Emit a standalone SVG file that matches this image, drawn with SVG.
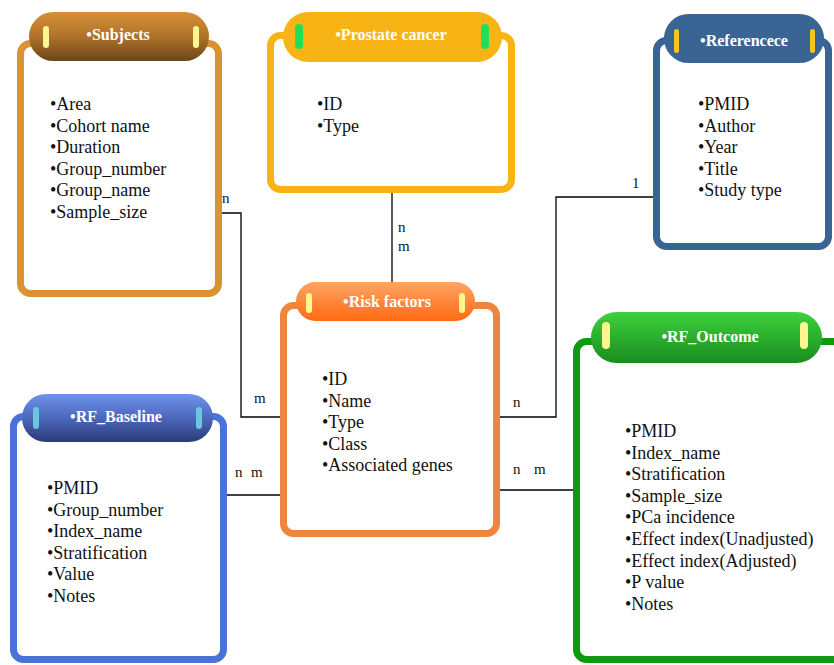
<svg xmlns="http://www.w3.org/2000/svg" width="834" height="665" viewBox="0 0 834 665">
<defs>
<linearGradient id="gSub" x1="0" y1="0" x2="0" y2="1"><stop offset="0" stop-color="#d68f38"/><stop offset="0.5" stop-color="#b0732a"/><stop offset="1" stop-color="#6a461a"/></linearGradient>
<linearGradient id="gRisk" x1="0" y1="0" x2="0" y2="1"><stop offset="0" stop-color="#ffa565"/><stop offset="1" stop-color="#ff6a12"/></linearGradient>
<linearGradient id="gBase" x1="0" y1="0" x2="0" y2="1"><stop offset="0" stop-color="#6d93ea"/><stop offset="0.5" stop-color="#4c68bc"/><stop offset="1" stop-color="#2a3a78"/></linearGradient>
<linearGradient id="gOut" x1="0" y1="0" x2="0" y2="1"><stop offset="0" stop-color="#3dd13d"/><stop offset="1" stop-color="#1a8c1e"/></linearGradient>
</defs>
<style>
.box{fill:#fff;stroke-width:7}
.title{font-family:"Liberation Serif","Times New Roman",serif;font-size:16px;font-weight:bold;fill:#fff;text-anchor:middle}
.item{font-family:"Liberation Serif","Times New Roman",serif;font-size:18px;fill:#111}
.lbl{font-family:"Liberation Serif","Times New Roman",serif;font-size:15px;fill:#111}
.conn{fill:none;stroke:#000;stroke-width:1.3}
.ybar{fill:#fff68f}
</style>
<g id="connectors">
<path class="conn" d="M222,213 H241 V417 H281"/>
<path class="conn" d="M392,193 V283"/>
<path class="conn" d="M497,417 H556 V197 H654"/>
<path class="conn" d="M226,495 H281"/>
<path class="conn" d="M499,490 H574"/>
<text class="lbl" x="222" y="203">n</text>
<text class="lbl" x="398" y="232">n</text>
<text class="lbl" x="398" y="251">m</text>
<text class="lbl" x="254" y="403">m</text>
<text class="lbl" x="513" y="407">n</text>
<text class="lbl" x="632" y="188">1</text>
<text class="lbl" x="235" y="477">n</text>
<text class="lbl" x="251" y="477">m</text>
<text class="lbl" x="513" y="474">n</text>
<text class="lbl" x="534" y="474">m</text>
</g>
<g id="subjects">
<rect class="box" x="20.5" y="43.5" width="198" height="250" rx="10" stroke="#d99334"/>
<rect x="29" y="12" width="180" height="49" rx="24.5" fill="url(#gSub)"/>
<rect class="ybar" x="43" y="26" width="6" height="22" rx="3"/>
<rect class="ybar" x="193" y="26" width="6" height="22" rx="3"/>
<text class="title" x="118" y="40">•Subjects</text>
<text class="item" x="50" y="110">•Area</text>
<text class="item" x="50" y="131.6">•Cohort name</text>
<text class="item" x="50" y="153.2">•Duration</text>
<text class="item" x="50" y="174.8">•Group_number</text>
<text class="item" x="50" y="196.4">•Group_name</text>
<text class="item" x="50" y="218">•Sample_size</text>
</g>
<g id="prostate">
<rect class="box" x="270.5" y="35.5" width="241" height="154" rx="10" stroke="#f8b415"/>
<rect x="283" y="12" width="219" height="50" rx="25" fill="#f8b415"/>
<rect x="295" y="24" width="8" height="25" rx="4" fill="#1fe05a"/>
<rect x="481" y="24" width="8" height="25" rx="4" fill="#1fe05a"/>
<text class="title" x="391" y="40">•Prostate cancer</text>
<text class="item" x="317" y="110">•ID</text>
<text class="item" x="317" y="131.6">•Type</text>
</g>
<g id="reference">
<rect class="box" x="656.5" y="40.5" width="172" height="206" rx="10" stroke="#3a6494"/>
<rect x="664" y="14" width="160" height="49" rx="24.5" fill="#3a6494"/>
<rect x="674" y="29" width="5" height="24" rx="2.5" fill="#f5c518"/>
<rect x="810" y="29" width="5" height="24" rx="2.5" fill="#f5c518"/>
<text class="title" x="744" y="46">•Referencece</text>
<text class="item" x="698" y="110">•PMID</text>
<text class="item" x="698" y="131.6">•Author</text>
<text class="item" x="698" y="153.2">•Year</text>
<text class="item" x="698" y="174.8">•Title</text>
<text class="item" x="698" y="196.4">•Study type</text>
</g>
<g id="risk-factors">
<rect class="box" x="283.5" y="305.5" width="213" height="228" rx="10" stroke="#ee8640"/>
<rect x="296" y="282" width="179" height="39" rx="19.5" fill="url(#gRisk)"/>
<rect class="ybar" x="306" y="293" width="6" height="20" rx="3"/>
<rect class="ybar" x="459" y="293" width="6" height="20" rx="3"/>
<text class="title" x="387" y="307">•Risk factors</text>
<text class="item" x="322" y="385">•ID</text>
<text class="item" x="322" y="406.6">•Name</text>
<text class="item" x="322" y="428.2">•Type</text>
<text class="item" x="322" y="449.8">•Class</text>
<text class="item" x="322" y="471.4">•Associated genes</text>
</g>
<g id="rf-baseline">
<rect class="box" x="13.5" y="416.5" width="210" height="243" rx="10" stroke="#4a73da"/>
<rect x="22" y="394" width="191" height="48" rx="24" fill="url(#gBase)"/>
<rect x="33" y="407" width="6" height="22" rx="3" fill="#6bc6e0"/>
<rect x="196" y="407" width="6" height="22" rx="3" fill="#6bc6e0"/>
<text class="title" x="116" y="422">•RF_Baseline</text>
<text class="item" x="47" y="494">•PMID</text>
<text class="item" x="47" y="515.6">•Group_number</text>
<text class="item" x="47" y="537.2">•Index_name</text>
<text class="item" x="47" y="558.8">•Stratification</text>
<text class="item" x="47" y="580.4">•Value</text>
<text class="item" x="47" y="602">•Notes</text>
</g>
<g id="rf-outcome">
<rect class="box" x="576.5" y="341.5" width="270" height="318" rx="10" stroke="#0e9a0e"/>
<rect x="591" y="312" width="231" height="51" rx="25.5" fill="url(#gOut)"/>
<rect class="ybar" x="602" y="322" width="8" height="27" rx="4"/>
<rect class="ybar" x="800" y="322" width="8" height="27" rx="4"/>
<text class="title" x="710" y="342">•RF_Outcome</text>
<text class="item" x="625" y="437">•PMID</text>
<text class="item" x="625" y="458.6">•Index_name</text>
<text class="item" x="625" y="480.2">•Stratification</text>
<text class="item" x="625" y="501.8">•Sample_size</text>
<text class="item" x="625" y="523.4">•PCa incidence</text>
<text class="item" x="625" y="545">•Effect index(Unadjusted)</text>
<text class="item" x="625" y="566.6">•Effect index(Adjusted)</text>
<text class="item" x="625" y="588.2">•P value</text>
<text class="item" x="625" y="609.8">•Notes</text>
</g>
</svg>
